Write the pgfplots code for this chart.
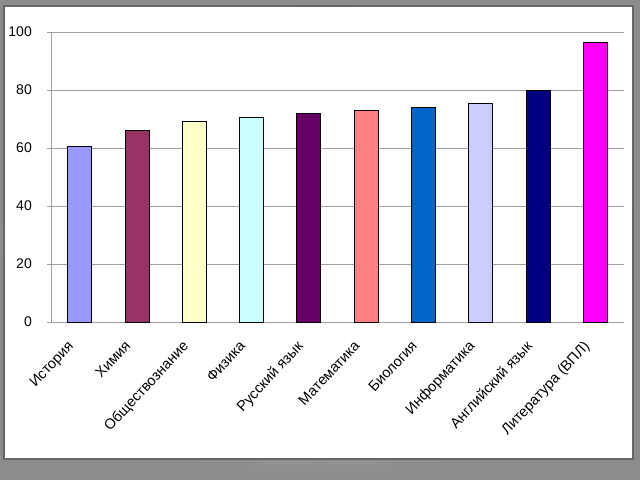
\documentclass[border=0pt]{standalone}
\usepackage{pgfplots}
\pgfplotsset{compat=1.18}
\usepackage{fontspec}
\setmainfont{Liberation Sans}
\newfontfamily\serifcaption{Liberation Serif}
\definecolor{c1}{HTML}{9999FF}
\definecolor{c2}{HTML}{993366}
\definecolor{c3}{HTML}{FFFFCC}
\definecolor{c4}{HTML}{CCFFFF}
\definecolor{c5}{HTML}{660066}
\definecolor{c6}{HTML}{FF8080}
\definecolor{c7}{HTML}{0066CC}
\definecolor{c8}{HTML}{CCCCFF}
\definecolor{c9}{HTML}{000080}
\definecolor{c10}{HTML}{FF00FF}
\definecolor{gridgray}{HTML}{A0A0A0}
\begin{document}
\begin{tikzpicture}[x=1bp,y=1bp]
\useasboundingbox (0,0) rectangle (640,480);
\shade[inner color=black!22, outer color=black!45] (0,0) rectangle (640,480);
\fill[white] (4,21) rectangle (633,474);
\draw[black!60, line width=1.2bp] (4,21) rectangle (633,474);
\node[text=black!45, font=\serifcaption\fontsize{10bp}{12bp}\selectfont] at (320,15) {С.Н.};
\begin{axis}[
  at={(51bp,158bp)}, anchor=south west,
  scale only axis, width=573bp, height=290bp,
  xmin=-0.5, xmax=9.5, ymin=0, ymax=100,
  axis x line=bottom, axis y line=left,
  axis line style={-, gridgray, line width=0.9bp},
  ytick={0,20,...,100},
  ymajorgrids, major grid style={gridgray, line width=0.9bp},
  xtick={0,...,9},
  xticklabels={История,Химия,Обществознание,Физика,Русский язык,Математика,Биология,Информатика,Английский язык,Литература (ВПЛ)},
  major x tick style={draw=none},
  extra x ticks={-0.5,0.5,...,9.5},
  extra x tick labels={},
  extra x tick style={major tick length=5bp, tick style={gridgray, line width=0.9bp}, tick align=outside},
  tick align=outside,
  major tick length=4bp,
  y tick style={gridgray, line width=0.9bp},
  yticklabel style={font=\fontsize{14bp}{16bp}\selectfont, inner sep=0pt, xshift=-15bp},
  xticklabel style={font=\fontsize{14.5bp}{16bp}\selectfont, xshift=-13bp, yshift=-13.5bp, rotate=47, anchor=north east, inner sep=0pt},
  /pgf/number format/assume math mode=true,
  clip=false,
]
\addplot[ybar, bar width=24bp, bar shift=0pt, fill=c1, draw=black, line width=0.8bp] coordinates {(0,60.7)};
\addplot[ybar, bar width=24bp, bar shift=0pt, fill=c2, draw=black, line width=0.8bp] coordinates {(1,65.9)};
\addplot[ybar, bar width=24bp, bar shift=0pt, fill=c3, draw=black, line width=0.8bp] coordinates {(2,69.3)};
\addplot[ybar, bar width=24bp, bar shift=0pt, fill=c4, draw=black, line width=0.8bp] coordinates {(3,70.4)};
\addplot[ybar, bar width=24bp, bar shift=0pt, fill=c5, draw=black, line width=0.8bp] coordinates {(4,72.0)};
\addplot[ybar, bar width=24bp, bar shift=0pt, fill=c6, draw=black, line width=0.8bp] coordinates {(5,73.0)};
\addplot[ybar, bar width=24bp, bar shift=0pt, fill=c7, draw=black, line width=0.8bp] coordinates {(6,73.9)};
\addplot[ybar, bar width=24bp, bar shift=0pt, fill=c8, draw=black, line width=0.8bp] coordinates {(7,75.3)};
\addplot[ybar, bar width=24bp, bar shift=0pt, fill=c9, draw=black, line width=0.8bp] coordinates {(8,79.8)};
\addplot[ybar, bar width=24bp, bar shift=0pt, fill=c10, draw=black, line width=0.8bp] coordinates {(9,96.3)};
\end{axis}
\end{tikzpicture}
\end{document}
